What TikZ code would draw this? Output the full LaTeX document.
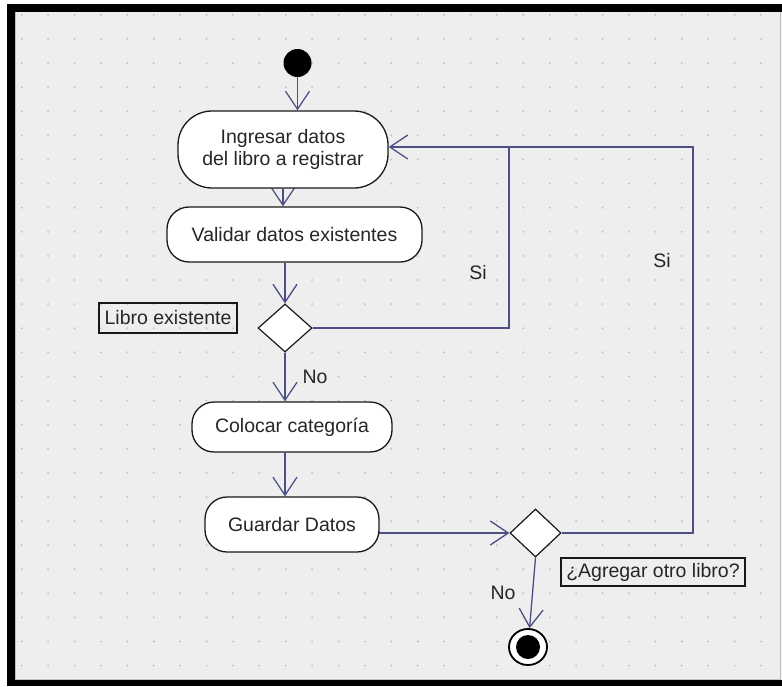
\documentclass[tikz,border=0pt]{standalone}
\usepackage{fontspec}
\setmainfont{Liberation Sans}
\usetikzlibrary{shapes.geometric,arrows.meta,calc}
\pgfdeclarelayer{back}
\pgfdeclarelayer{mid}
\pgfsetlayers{back,mid,main}
\definecolor{canvas}{HTML}{EEEEEE}
\definecolor{griddot}{HTML}{C4C4C4}
\definecolor{flowline}{RGB}{78,78,134}

\begin{document}
\begin{tikzpicture}[x=1pt,y=-1pt,
  txt/.style={font=\fontsize{19.5}{22}\selectfont, text=black!85},
  act/.style={txt, draw=black!90, line width=1.3pt, fill=white,
    rounded corners=#1, inner sep=0pt, align=center},
  act/.default=22pt,
  choice/.style={diamond, draw=black!90, line width=1.2pt, fill=white,
    inner sep=0pt},
  note/.style={txt, draw=black!90, line width=1.2pt, inner sep=0pt},
  flow/.style={draw=flowline, line width=1.3pt},
  arrowflow/.style={flow, -{Straight Barb[length=18pt,width=24pt]}},
]
\useasboundingbox (0,0) rectangle (782,686);

% frame and dotted canvas
\begin{pgfonlayer}{back}
  \fill[white] (0,0) rectangle (782,686);
  \fill[black] (7,4) rectangle (782,686);
  \fill[canvas] (15,12) rectangle (782,680);
  \draw[black!25, line width=0.8pt] (15.4,12.4) -- (15.4,679.6) -- (780.5,679.6) -- (780.5,12.4);
  \foreach \i in {0,...,28}
    \foreach \j in {0,...,27}
      \fill[griddot] (21.7+26.4*\i, 14.9+24.1*\j) circle (1.1pt);
\end{pgfonlayer}

% activity nodes
\node[circle, fill=black, minimum size=28pt, inner sep=0pt] (start) at (297.5,63) {};
\node[act=34pt, minimum width=210pt, minimum height=77pt] (n1) at (283,149.5)
  {Ingresar datos\\del libro a registrar};
\node[act, minimum width=255pt, minimum height=55pt] (n2) at (294.5,234.5)
  {Validar datos existentes};
\node[choice, minimum width=54pt, minimum height=48pt] (d1) at (285,328) {};
\node[note, minimum width=138pt, minimum height=30pt] (lb1) at (168,318) {Libro existente};
\node[act, minimum width=200pt, minimum height=50pt] (n3) at (292,427)
  {Colocar categoría};
\node[act, minimum width=174pt, minimum height=55pt] (n4) at (292,524.5)
  {Guardar Datos};
\node[choice, minimum width=51pt, minimum height=48pt] (d2) at (535.5,533) {};
\node[note, minimum width=184pt, minimum height=28pt] (lb2) at (653,572) {¿Agregar otro libro?};
\node[ellipse, draw=black, line width=1.8pt, fill=white, minimum width=38pt,
  minimum height=36pt, inner sep=0pt] (end) at (528,647) {};
\fill[black] (end.center) circle (12pt);

% guard labels
\node[txt, anchor=west] (no1) at (299,377) {No};
\node[txt] (no2) at (503,593) {No};
\node[txt] (si1) at (478,273) {Si};
\node[txt] (si2) at (662,261) {Si};

% connectors
\coordinate (jn) at (509,147);
\coordinate (rt) at (693,147);
\begin{pgfonlayer}{mid}
  \draw[arrowflow] (start) -- (start |- n1.north);
  \draw[arrowflow] (n1.south) -- (n1.south |- n2.north);
  \draw[arrowflow] (d1.north |- n2.south) -- (d1.north);
  \draw[arrowflow] (d1.south) -- (d1.south |- n3.north);
  \draw[arrowflow] (d1.south |- n3.south) -- (d1.south |- n4.north);
  \draw[arrowflow] (n4.center |- d2.west) -- (d2.west);
  \draw[arrowflow] (d2.south) -- (end);
  \draw[flow] (d1.east) -| (jn);
  \draw[arrowflow] (d2.east) -| (rt) -- (rt -| n1.east);
\end{pgfonlayer}
\end{tikzpicture}
\end{document}
